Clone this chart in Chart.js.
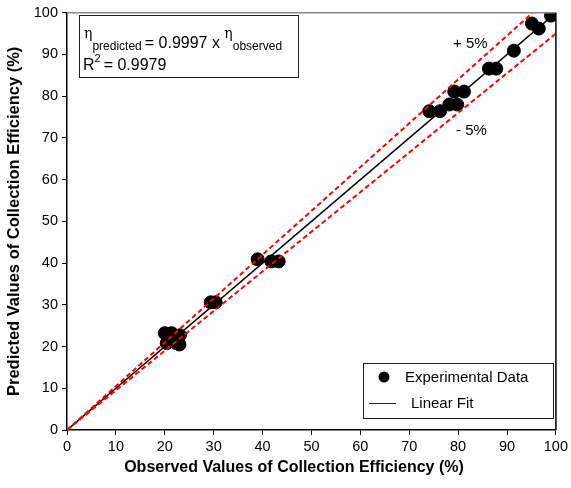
<!DOCTYPE html>
<html>
<head>
<meta charset="utf-8">
<script src="https://cdn.jsdelivr.net/npm/chart.js@4.4.0/dist/chart.umd.min.js"></script>
<style>
  html, body { margin: 0; padding: 0; background: #fff; }
  #wrap { width: 571px; height: 488px; }
</style>
</head>
<body>
<div id="wrap"><canvas id="chart" width="571" height="488"></canvas></div>
<script>
// Observed vs predicted collection efficiency (%)
const observed = [20.0, 21.4, 23.1, 20.4, 22.4, 23.0, 29.4, 30.4, 39.0, 41.8, 43.3,
  74.1, 76.3, 78.2, 79.8, 79.2, 81.2, 86.3, 87.8, 91.4, 95.1, 96.5, 99.0];
const predicted = [23.2, 23.2, 22.7, 20.8, 20.8, 20.5, 30.6, 30.6, 40.9, 40.4, 40.4,
  76.4, 76.4, 78.0, 78.0, 81.1, 81.1, 86.6, 86.6, 90.9, 97.4, 96.2, 99.3];

// Line end points
const fitX = [0, 100];
const fitY = [0, 99.97];
const upperX = [0, 95.24];
const upperY = [0, 100];
const lowerX = [0, 100];
const lowerY = [0, 95];

const ticks = [0, 10, 20, 30, 40, 50, 60, 70, 80, 90, 100];

function pairs(xs, ys) {
  return xs.map((x, i) => ({ x: x, y: ys[i] }));
}

const FONT = "'Liberation Sans', Arial, sans-serif";

// Frame, x title, equation box, legend and +/-5% labels
const extrasPlugin = {
  id: "extras",
  afterDraw(chart) {
    const ctx = chart.ctx;
    const a = chart.chartArea;
    ctx.save();

    // top and right frame lines
    ctx.strokeStyle = "#888";
    ctx.lineWidth = 1.5;
    ctx.beginPath();
    ctx.moveTo(a.left, a.top);
    ctx.lineTo(a.right, a.top);
    ctx.stroke();
    ctx.strokeStyle = "#000";
    ctx.beginPath();
    ctx.moveTo(a.right, a.top);
    ctx.lineTo(a.right, a.bottom);
    ctx.stroke();

    // x axis title (centred on the page, as in the original)
    ctx.fillStyle = "#000";
    ctx.font = "bold 16px " + FONT;
    ctx.textAlign = "center";
    ctx.textBaseline = "middle";
    ctx.fillText("Observed Values of Collection Efficiency (%)", 294, 468);

    // equation box
    ctx.fillStyle = "#fff";
    ctx.fillRect(79, 15, 219, 62);
    ctx.strokeStyle = "#222";
    ctx.lineWidth = 1;
    ctx.strokeRect(79.5, 15.5, 219, 62);
    ctx.fillStyle = "#000";
    ctx.textBaseline = "alphabetic";
    ctx.textAlign = "left";
    let x = 84;
    ctx.font = "14px 'DejaVu Serif', serif";
    ctx.fillText("\u03b7", x, 38);
    x += ctx.measureText("\u03b7").width;
    ctx.font = "12px " + FONT;
    ctx.fillText("predicted", x, 50);
    x += ctx.measureText("predicted").width + 3;
    ctx.font = "16px " + FONT;
    ctx.fillText("= 0.9997 x ", x, 48);
    x += ctx.measureText("= 0.9997 x ").width;
    ctx.font = "14px 'DejaVu Serif', serif";
    ctx.fillText("\u03b7", x, 38);
    x += ctx.measureText("\u03b7").width;
    ctx.font = "12px " + FONT;
    ctx.fillText("observed", x, 50);

    ctx.font = "16px " + FONT;
    ctx.fillText("R", 83, 70);
    let rx = 83 + ctx.measureText("R").width;
    ctx.font = "11px " + FONT;
    ctx.fillText("2", rx, 62);
    rx += ctx.measureText("2").width + 3;
    ctx.font = "16px " + FONT;
    ctx.fillText("= 0.9979", rx, 70);

    // +/- 5% labels
    ctx.font = "15px " + FONT;
    ctx.fillText("+ 5%", 453, 48);
    ctx.fillText("- 5%", 456, 135);

    // legend
    ctx.fillStyle = "#fff";
    ctx.fillRect(363, 363, 190, 55);
    ctx.strokeStyle = "#222";
    ctx.strokeRect(363.5, 363.5, 190, 55);
    ctx.fillStyle = "#000";
    ctx.beginPath();
    ctx.arc(384, 377, 5.5, 0, Math.PI * 2);
    ctx.fill();
    ctx.font = "15px " + FONT;
    ctx.fillText("Experimental Data", 405, 382);
    ctx.lineWidth = 1;
    ctx.beginPath();
    ctx.moveTo(369, 403.5);
    ctx.lineTo(396, 403.5);
    ctx.stroke();
    ctx.fillText("Linear Fit", 411, 408);

    ctx.restore();
  },
};

const ctx = document.getElementById("chart").getContext("2d");
new Chart(ctx, {
  type: "scatter",
  data: {
    datasets: [
      {
        label: "+5%",
        data: pairs(upperX, upperY),
        showLine: true,
        borderColor: "#ff0000",
        borderWidth: 2,
        borderDash: [5, 3],
        pointRadius: 0,
      },
      {
        label: "-5%",
        data: pairs(lowerX, lowerY),
        showLine: true,
        borderColor: "#ff0000",
        borderWidth: 2,
        borderDash: [5, 3],
        pointRadius: 0,
      },
      {
        label: "Linear Fit",
        data: pairs(fitX, fitY),
        showLine: true,
        borderColor: "#000",
        borderWidth: 1.5,
        pointRadius: 0,
      },
      {
        label: "Experimental Data",
        data: pairs(observed, predicted),
        backgroundColor: "#000",
        borderColor: "#000",
        pointRadius: 6.5,
        pointHoverRadius: 6.5,
      },
    ],
  },
  options: {
    responsive: false,
    animation: false,
    events: [],
    layout: { padding: { left: 5, top: 12, right: 14, bottom: 0 } },
    plugins: {
      legend: { display: false },
      tooltip: { enabled: false },
    },
    scales: {
      x: {
        type: "linear",
        min: 0,
        max: 100,
        afterBuildTicks: (s) => { s.ticks = ticks.map((v) => ({ value: v })); },
        afterFit: (s) => { s.height = 58; },
        grid: { display: true, drawOnChartArea: false, drawTicks: true, tickLength: 5, color: "#000" },
        border: { display: true, color: "#000", width: 1.5 },
        ticks: { color: "#000", padding: 3, maxRotation: 0, font: { family: FONT, size: 14.5 } },
        title: { display: false },
      },
      y: {
        type: "linear",
        min: 0,
        max: 100,
        afterBuildTicks: (s) => { s.ticks = ticks.map((v) => ({ value: v })); },
        afterFit: (s) => { s.width = 62; },
        grid: { display: true, drawOnChartArea: false, drawTicks: true, tickLength: 5, color: "#000" },
        border: { display: true, color: "#000", width: 1.5 },
        ticks: { color: "#000", padding: 4, font: { family: FONT, size: 14.5 } },
        title: {
          display: true,
          text: "Predicted Values of Collection Efficiency (%)",
          color: "#000",
          padding: { top: 0, bottom: 4 },
          font: { family: FONT, size: 16.5, weight: "bold" },
        },
      },
    },
  },
  plugins: [extrasPlugin],
});
</script>
</body>
</html>
